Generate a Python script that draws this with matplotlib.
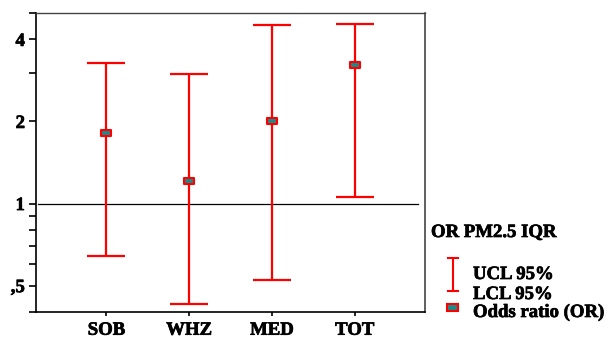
import numpy as np
import matplotlib
matplotlib.use("Agg")
import matplotlib.pyplot as plt
from matplotlib.path import Path
from matplotlib.lines import Line2D
from matplotlib.patches import Rectangle
import matplotlib.patheffects as pe

# data
categories = ["SOB", "WHZ", "MED", "TOT"]
odds_ratio = [1.82, 1.21, 2.00, 3.23]
lcl_95 = [0.643, 0.427, 0.526, 1.06]
ucl_95 = [3.27, 2.99, 4.52, 4.56]

ytick_vals = [0.5, 1, 2, 4]
ytick_labels = [",5", "1", "2", "4"]
yminor_vals = [0.4, 0.6, 0.7, 0.8, 0.9, 3, 5]

legend_title = "OR PM2.5 IQR"
legend_labels = ["UCL 95%", "LCL 95%", "Odds ratio (OR)"]

RED = "#ff0000"
TEAL = "#168c8c"
FONT = "Liberation Serif"

# the reference text is a bit heavier than Liberation Serif Bold, so thicken it slightly
TXT = dict(fontfamily=FONT, fontweight="bold",
           path_effects=[pe.withStroke(linewidth=0.5, foreground="black")])

rect_marker = Path([(-1, -0.62), (1, -0.62), (1, 0.62), (-1, 0.62), (-1, -0.62)],
                   [Path.MOVETO, Path.LINETO, Path.LINETO, Path.LINETO, Path.CLOSEPOLY])

fig = plt.figure(figsize=(6.14, 3.38), dpi=100)
ax = fig.add_axes([36 / 614, 1 - 312 / 338, (425 - 36) / 614, (312 - 13) / 338])

x = np.arange(1, len(categories) + 1)
or_arr = np.array(odds_ratio)
yerr = np.vstack([or_arr - np.array(lcl_95), np.array(ucl_95) - or_arr])

ax.axhline(1, xmin=0.005, xmax=0.983, color="black", lw=0.9, zorder=1)
ax.errorbar(x, or_arr, yerr=yerr, fmt="none", ecolor=RED, elinewidth=1.6,
            capsize=13.7, capthick=1.6, zorder=2)
ax.plot(x, or_arr, linestyle="none", marker=rect_marker, markersize=7,
        markerfacecolor=TEAL, markeredgecolor=RED, markeredgewidth=1.5, zorder=3)

ax.set_yscale("log")
ax.set_ylim(0.4, 5)
ax.set_xlim(0.15, 4.85)
ax.set_yticks(ytick_vals)
ax.set_yticks(yminor_vals, minor=True)
ax.yaxis.set_minor_formatter(plt.NullFormatter())
ax.set_yticklabels(ytick_labels, fontsize=13.5, **TXT)
ax.set_xticks(x)
ax.set_xticklabels(categories, fontsize=13.5, **TXT)

ax.tick_params(axis="y", which="both", length=5, width=1.2, pad=3, direction="out")
ax.tick_params(axis="x", length=3, width=1.2, pad=4)

ax.spines["left"].set_linewidth(1.2)
ax.spines["bottom"].set_linewidth(1.2)
ax.spines["top"].set_color("#444444")
ax.spines["right"].set_color("#444444")
ax.spines["top"].set_linewidth(1.0)
ax.spines["right"].set_linewidth(1.2)

# legend drawn by hand in pixel coordinates
lg = fig.add_axes([0, 0, 1, 1])
lg.set_xlim(0, 614)
lg.set_ylim(338, 0)
lg.axis("off")
lg.patch.set_alpha(0)

lg.text(431, 237, legend_title, fontsize=13.5, va="baseline", ha="left", **TXT)
lg.add_line(Line2D([452.5, 452.5], [257.5, 290.5], color=RED, lw=1.5))
lg.add_line(Line2D([447.5, 457.5], [257.5, 257.5], color=RED, lw=1.5))
lg.add_line(Line2D([447.5, 457.5], [290.5, 290.5], color=RED, lw=1.5))
lg.add_patch(Rectangle((447, 304), 11, 6.5, facecolor=TEAL, edgecolor=RED, lw=1.5))
lg.text(473, 279, legend_labels[0], fontsize=13.5, va="baseline", **TXT)
lg.text(473, 299, legend_labels[1], fontsize=13.5, va="baseline", **TXT)
lg.text(473, 317, legend_labels[2], fontsize=13.5, va="baseline", **TXT)

fig.savefig("out.png", dpi=100)
